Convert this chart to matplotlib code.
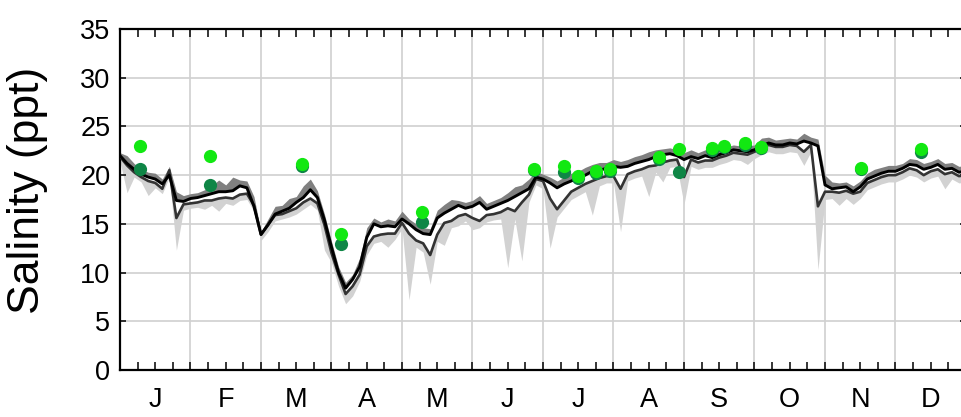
import numpy as np
import matplotlib.pyplot as plt

plt.rcParams['font.family'] = ['Liberation Sans', 'DejaVu Sans']

# time axis in months (0 = 1 Jan), sampled every 0.1 month
months = np.round(np.arange(0, 12.01, 0.1), 1)
month_labels = ['J', 'F', 'M', 'A', 'M', 'J', 'J', 'A', 'S', 'O', 'N', 'D']

# upper series (black line) and its envelope (mid grey)
surface = [22.0, 21.2, 20.6, 20.1, 19.8, 19.6, 19.1, 20.0, 17.4, 17.3,
           17.6, 17.7, 17.9, 18.1, 18.3, 18.3, 18.4, 18.9, 18.7, 16.8,
           13.9, 14.9, 16.0, 16.3, 16.6, 17.2, 17.7, 18.5, 17.7, 15.4,
           12.6, 10.0, 8.4, 9.3, 10.6, 13.6, 15.0, 14.7, 14.8, 14.7,
           15.5, 15.0, 14.4, 14.0, 13.9, 15.6, 16.1, 16.5, 16.9, 16.6,
           16.8, 17.2, 16.5, 16.8, 17.1, 17.4, 17.8, 18.2, 18.6, 19.8,
           19.6, 19.2, 18.7, 19.1, 19.4, 19.7, 20.0, 20.4, 20.5, 20.7,
           20.9, 20.8, 20.9, 21.2, 21.4, 21.6, 21.9, 22.1, 22.2, 22.0,
           21.6, 21.9, 21.7, 22.0, 21.8, 22.1, 22.3, 22.6, 22.5, 22.4,
           22.6, 23.0, 23.3, 23.1, 23.1, 23.3, 23.2, 23.5, 23.3, 23.0,
           19.0, 18.6, 18.7, 18.8, 18.3, 18.8, 19.6, 19.9, 20.2, 20.4,
           20.4, 20.7, 21.1, 21.0, 20.6, 20.8, 21.1, 20.6, 20.7, 20.3,
           20.4]
surface_max = [22.3, 22.0, 21.2, 20.6, 20.3, 20.2, 19.6, 20.9, 18.3, 17.9,
               18.1, 18.2, 18.5, 18.9, 19.5, 19.0, 19.8, 19.5, 19.4, 17.8,
               14.2, 15.5, 16.8, 16.9, 17.6, 17.8, 18.9, 19.6, 18.4, 16.0,
               13.2, 10.6, 9.0, 9.8, 11.5, 14.6, 15.6, 15.2, 15.5, 15.3,
               16.3, 15.5, 15.0, 14.6, 14.5, 16.4, 17.0, 17.5, 17.4, 17.2,
               17.4, 17.9, 17.1, 17.4, 17.7, 18.2, 18.8, 19.0, 19.6, 20.4,
               20.1, 19.8, 19.4, 19.8, 20.2, 20.4, 20.8, 21.1, 21.3, 21.3,
               21.6, 21.4, 21.6, 21.9, 22.1, 22.4, 22.6, 22.7, 22.8, 22.6,
               22.3, 22.6, 22.3, 22.6, 22.4, 22.7, 22.9, 23.1, 23.0, 23.0,
               23.1, 23.8, 23.9, 23.6, 23.7, 23.8, 23.7, 24.3, 23.9, 23.7,
               20.0, 19.3, 19.2, 19.3, 18.9, 19.4, 20.2, 20.6, 20.8, 21.0,
               21.0, 21.2, 21.7, 21.6, 21.2, 21.4, 21.7, 21.2, 21.3, 20.9,
               21.0]

# lower series (dark grey line) and its envelope (light grey)
bottom = [21.9, 21.0, 20.3, 19.8, 19.4, 19.2, 18.6, 20.5, 15.6, 17.0,
          17.1, 17.2, 17.4, 17.4, 17.6, 17.7, 17.6, 18.0, 18.1, 16.9,
          13.9, 14.9, 15.9, 16.0, 16.3, 16.6, 17.2, 17.6, 17.1, 14.9,
          12.0, 9.8, 7.8, 8.6, 9.8, 12.7, 13.7, 13.9, 14.0, 14.0,
          15.1, 14.0, 13.3, 13.0, 11.8, 13.9, 15.1, 15.3, 15.8, 16.0,
          15.6, 15.3, 15.9, 16.0, 16.2, 16.6, 16.3, 17.2, 18.0, 19.6,
          19.4, 17.6, 16.5, 17.4, 18.3, 18.7, 19.1, 19.4, 19.7, 19.9,
          19.9, 18.6, 20.1, 20.4, 20.6, 20.9, 21.0, 21.3, 21.5, 21.6,
          19.8, 21.6, 21.3, 21.5, 21.5, 21.8, 22.0, 22.3, 22.2, 22.1,
          22.4, 22.8, 23.1, 22.9, 22.9, 23.1, 23.0, 22.4, 23.1, 16.8,
          18.3, 18.3, 18.2, 18.4, 18.1, 18.3, 19.2, 19.5, 19.8, 20.0,
          20.0, 20.3, 20.7, 20.5, 20.0, 20.4, 20.6, 20.1, 20.3, 19.9,
          20.0]
bottom_min = [21.4, 18.2, 19.8, 19.3, 17.9, 18.7, 18.1, 19.8, 12.3, 16.4,
              16.6, 16.7, 16.5, 16.9, 16.3, 17.1, 16.9, 17.4, 17.5, 16.3,
              13.3, 14.2, 15.3, 15.5, 15.7, 16.0, 16.5, 17.0, 16.4, 12.3,
              11.0, 8.6, 6.8, 7.6, 9.1, 11.8, 13.0, 13.2, 12.6, 13.4,
              14.5, 7.2, 12.6, 12.1, 8.8, 13.2, 12.8, 14.6, 14.8, 15.3,
              14.4, 14.6, 15.2, 15.4, 15.5, 10.5, 15.5, 11.2, 17.2, 19.0,
              18.6, 12.5, 15.7, 16.6, 17.5, 17.9, 18.3, 15.9, 18.9, 19.2,
              19.2, 14.2, 19.4, 19.7, 19.9, 17.8, 20.3, 19.3, 20.8, 20.9,
              17.0, 20.9, 20.6, 20.8, 20.8, 21.1, 21.3, 21.6, 21.5, 21.1,
              21.7, 22.1, 22.4, 22.2, 22.2, 22.4, 22.3, 21.0, 22.4, 10.3,
              17.5, 17.6, 16.9, 17.6, 17.0, 17.6, 18.5, 18.8, 19.1, 19.3,
              19.3, 19.6, 20.0, 19.8, 19.3, 19.7, 19.9, 18.6, 19.6, 19.2,
              19.3]

# discrete samples
sample_month = [0.28, 1.27, 2.58, 3.13, 4.29, 5.87, 6.30, 6.50, 6.75,
                6.95, 7.65, 7.93, 8.40, 8.57, 8.87, 9.09, 10.51, 11.36]
sample_top = [23.0, 22.0, 21.1, 14.0, 16.2, 20.6, 20.9, 19.9, 20.4,
              20.6, 21.9, 22.7, 22.75, 23.0, 23.3, 22.9, 20.7, 22.65]
sample_bot = [20.6, 18.95, 20.9, 12.9, 15.15, 20.5, 20.35, 19.7, 20.2,
              20.4, 21.7, 20.35, 22.6, 22.9, 23.1, 22.8, 20.6, 22.4]

fig = plt.figure(figsize=(9.62, 4.17), dpi=100)
ax = fig.add_axes([120/962, 47/417, 846/962, 341/417])

# grid
for v in range(5, 35, 5):
    ax.axhline(v, color='#d0d0d0', lw=1.2, zorder=0)
for m in range(1, 12):
    ax.axvline(m, color='#d0d0d0', lw=1.2, zorder=0)

ax.fill_between(months, bottom_min, bottom, color='#d2d2d2', lw=0, zorder=1)
ax.fill_between(months, surface, surface_max, color='#808080', lw=0, zorder=2)
ax.plot(months, bottom, color='#333333', lw=1.9, zorder=3)
ax.plot(months, surface, color='black', lw=2.1, zorder=4)

ax.plot(sample_month, sample_bot, 'o', color='#0f8646', ms=9.5, mew=0, zorder=5)
ax.plot(sample_month, sample_top, 'o', color='#12e812', ms=9.5, mew=0, zorder=6)

ax.set_xlim(0, 12)
ax.set_ylim(0, 35)

ax.xaxis.remove_overlapping_locs = False
ax.set_xticks(np.arange(0, 12.01, 0.25))
ax.set_xticklabels([])
ax.tick_params(axis='x', which='major', direction='in', length=6, width=1.1,
               top=True, bottom=True)
ax.set_xticks(np.arange(0.5, 12, 1), minor=True)
ax.set_xticklabels(month_labels, minor=True)
ax.tick_params(axis='x', which='minor', length=0, pad=12, labelsize=19.5,
               top=False)

ax.set_yticks(range(0, 36, 5))
ax.tick_params(axis='y', direction='in', length=4, width=1.1, left=True,
               right=True, pad=7, labelsize=19.5)

for side in ['left', 'top', 'bottom']:
    ax.spines[side].set_linewidth(1.6)
ax.spines['right'].set_visible(False)

ax.set_ylabel('Salinity (ppt)', fontsize=32, va='center')
ax.yaxis.set_label_coords(-92/846, 180/341)

fig.savefig('out.png', dpi=100)
